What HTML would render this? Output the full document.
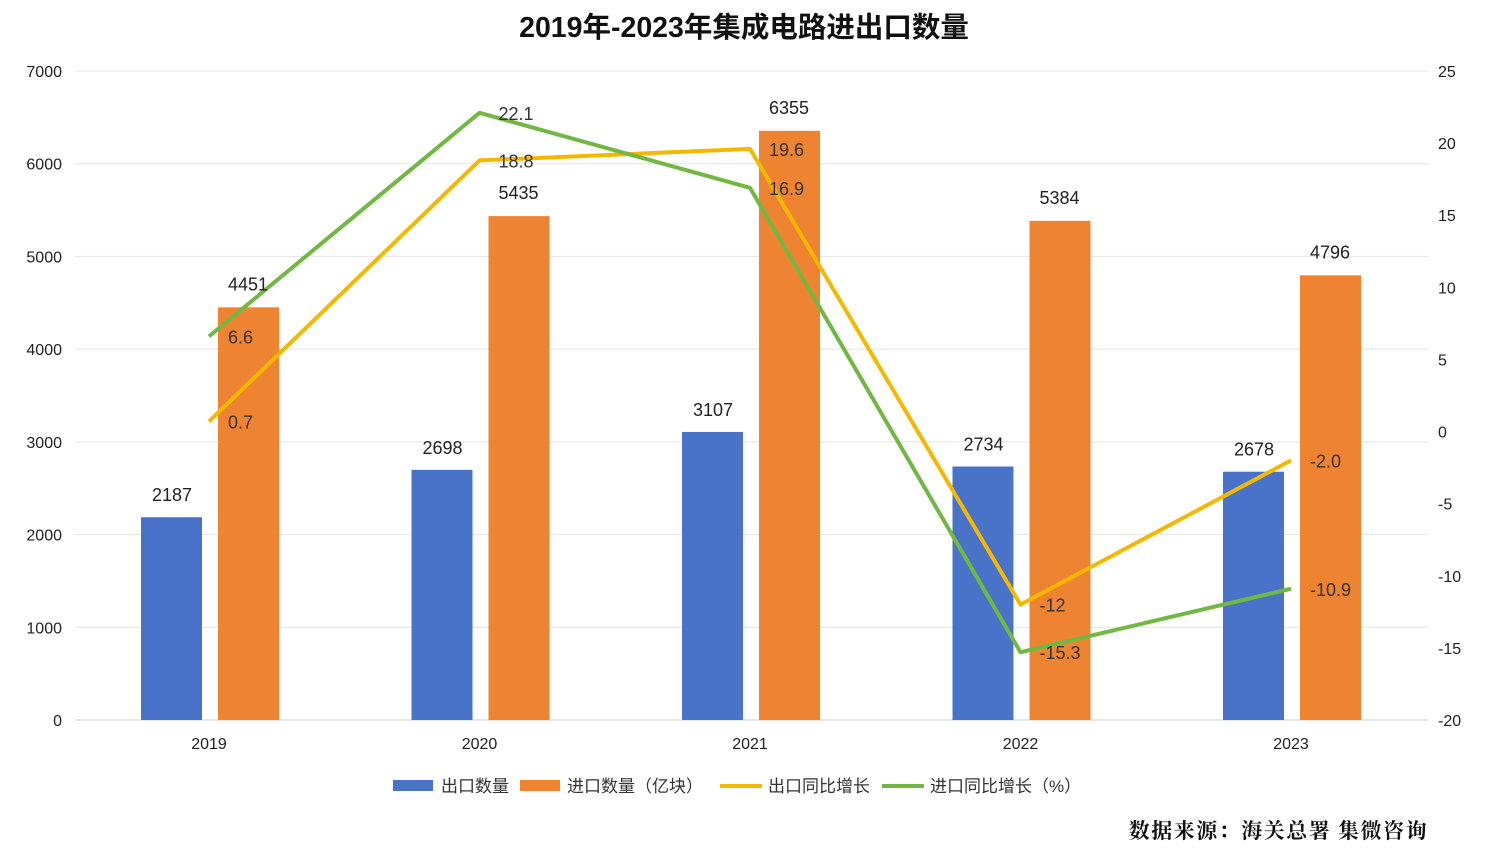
<!DOCTYPE html>
<html><head><meta charset="utf-8">
<style>
body{margin:0;background:#fff;width:1492px;height:852px;overflow:hidden;font-family:"Liberation Sans","Noto Sans CJK SC",sans-serif;}
</style></head>
<body>
<svg id="chart" width="1492" height="852" xmlns="http://www.w3.org/2000/svg" font-family="Liberation Sans, Noto Sans CJK SC, sans-serif">
<text x="744" y="37" text-anchor="middle" font-size="28.5" font-weight="bold" fill="#111">2019年-2023年集成电路进出口数量</text>
<g id="grid"></g><g id="bars"></g><g id="lines"></g><g id="labels"></g>
<g font-size="17" fill="#333">
<rect x="393" y="780" width="40" height="11" fill="#4873c9"/><text x="441" y="792">出口数量</text>
<rect x="520" y="780" width="40" height="11" fill="#ee8431"/><text x="567" y="792">进口数量（亿块）</text>
<line x1="720" y1="786" x2="762" y2="786" stroke="#f5b800" stroke-width="4"/><text x="768" y="792">出口同比增长</text>
<line x1="882" y1="786" x2="924" y2="786" stroke="#71b843" stroke-width="4"/><text x="930" y="792">进口同比增长（%）</text>
</g>
<text x="1428" y="838" text-anchor="end" font-size="21" letter-spacing="1.5" fill="#111" font-weight="bold" font-family="Noto Serif CJK SC, serif">数据来源：海关总署  集微咨询</text>
</svg>
<script>
const categories=["2019","2020","2021","2022","2023"];
const exportQty=[2187,2698,3107,2734,2678];
const importQty=[4451,5435,6355,5384,4796];
const exportGrowth=[0.7,18.8,19.6,-12,-2.0];
const importGrowth=[6.6,22.1,16.9,-15.3,-10.9];
const exportGrowthLabels=["0.7","18.8","19.6","-12","-2.0"];
const importGrowthLabels=["6.6","22.1","16.9","-15.3","-10.9"];
const leftTicks=[0,1000,2000,3000,4000,5000,6000,7000];
const rightTicks=[-20,-15,-10,-5,0,5,10,15,20,25];
const NS="http://www.w3.org/2000/svg";
const x0=75,x1=1428,yTop=71,yBot=720;
const yL=v=>yBot-(v/7000)*(yBot-yTop);
const yR=v=>yBot-((v+20)/45)*(yBot-yTop);
const xC=i=>209+i*270.5;
function mk(tag,attrs,parent){const e=document.createElementNS(NS,tag);for(const k in attrs)e.setAttribute(k,attrs[k]);document.getElementById(parent).appendChild(e);return e;}
leftTicks.forEach(t=>{
 const l=mk('line',{x1:x0,x2:x1,y1:yL(t),y2:yL(t),stroke:t===0?'#ccc':'#e4e4e4','stroke-width':1},'grid');
 
 
 const tx=mk('text',{x:62,y:yL(t)+6,'text-anchor':'end','font-size':16,fill:'#222'},'grid');tx.textContent=t;
 
 
});
rightTicks.forEach(t=>{
 const tx=mk('text',{x:1438,y:yR(t)+6,'font-size':16,fill:'#222'},'grid');tx.textContent=t;
 
 
});
categories.forEach((c,i)=>{
 const tx=mk('text',{x:xC(i),y:749,'text-anchor':'middle','font-size':16,fill:'#222'},'grid');tx.textContent=c;
 
 
 const b1=mk('rect',{x:xC(i)-68,y:yL(exportQty[i]),width:61,height:yBot-yL(exportQty[i]),fill:'#4873c9'},'bars');
 
 
 const b2=mk('rect',{x:xC(i)+9,y:yL(importQty[i]),width:61,height:yBot-yL(importQty[i]),fill:'#ee8431'},'bars');
 
 
 const t1=mk('text',{x:xC(i)-37,y:yL(exportQty[i])-16,'text-anchor':'middle','font-size':18,fill:'#222'},'labels');t1.textContent=exportQty[i];
 
 
 const t2=mk('text',{x:xC(i)+39,y:yL(importQty[i])-17,'text-anchor':'middle','font-size':18,fill:'#222'},'labels');t2.textContent=importQty[i];
 
 
});
function line(vals,labs,color,name){
 const p=mk('polyline',{points:vals.map((v,i)=>xC(i)+','+yR(v)).join(' '),fill:'none',stroke:color,'stroke-width':4,'stroke-linejoin':'round'},'lines');
 
 
 vals.forEach((v,i)=>{
  const t=mk('text',{x:xC(i)+19,y:yR(v)+7,'font-size':18,fill:'#333'},'labels');t.textContent=labs[i];
  
  
 });
}
line(exportGrowth,exportGrowthLabels,'#f5b800','export-growth-line');
line(importGrowth,importGrowthLabels,'#71b843','import-growth-line');
</script>
</body></html>
